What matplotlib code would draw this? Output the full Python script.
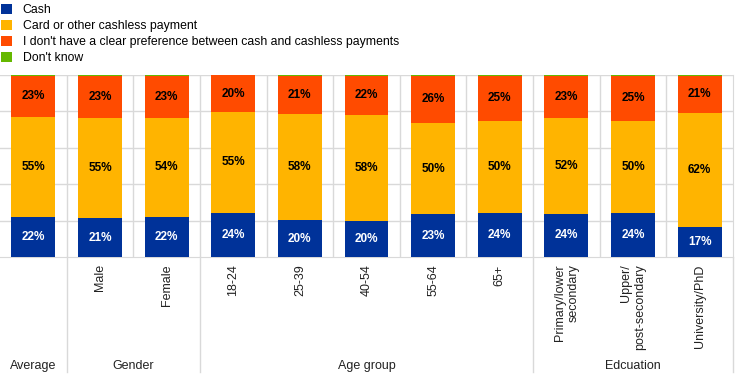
import matplotlib.pyplot as plt
import matplotlib.transforms as mtransforms
import numpy as np

plt.rcParams['font.family'] = ['Liberation Sans', 'DejaVu Sans']

categories = ["", "Male", "Female", "18-24", "25-39", "40-54", "55-64", "65+",
              "Primary/lower\nsecondary", "Upper/\npost-secondary", "University/PhD"]
groups = [("Average", 0, 0), ("Gender", 1, 2), ("Age group", 3, 7), ("Edcuation", 8, 10)]

cash = [21.8, 21.4, 22.1, 24.3, 20.2, 20.0, 23.4, 24.3, 23.8, 24.2, 16.7]
card = [54.9, 54.9, 54.4, 55.4, 58.4, 57.9, 50.3, 50.4, 52.4, 50.4, 62.4]
pref = [23.0, 23.4, 23.1, 20.1, 21.1, 21.8, 26.0, 25.0, 23.3, 25.1, 20.6]
dont_know = [0.3, 0.3, 0.4, 0.2, 0.3, 0.3, 0.3, 0.3, 0.5, 0.3, 0.3]

series = [("Cash", cash, "#003299", "white"),
          ("Card or other cashless payment", card, "#FFB400", "black"),
          ("I don't have a clear preference between cash and cashless payments", pref, "#FF4B00", "black"),
          ("Don't know", dont_know, "#65B800", None)]

fig = plt.figure(figsize=(7.44, 3.77), dpi=100)
ax = fig.add_axes([0.0, 120 / 377, 733 / 744, 182 / 377])

x = np.arange(len(categories))
bottom = np.zeros(len(categories))
handles = []
for name, vals, color, tcolor in series:
    vals = np.array(vals)
    bars = ax.bar(x, vals, 0.66, bottom=bottom, color=color, label=name, zorder=3)
    handles.append(bars)
    if tcolor:
        for xi, b, v in zip(x, bottom, vals):
            ax.text(xi, b + v / 2, f"{round(v):.0f}%", ha='center', va='center',
                    color=tcolor, fontsize=8.5, fontweight='bold', zorder=4)
    bottom += vals

ax.set_xlim(-0.5, len(categories) - 0.5)
ax.set_ylim(0, 100)
for y in range(20, 101, 20):
    ax.axhline(y, color='#d9d9d9', lw=1, zorder=1)
for b in np.arange(0.5, len(categories) - 0.5, 1):
    ax.axvline(b, color='#d9d9d9', lw=1, zorder=1)
for s in ['top', 'left']:
    ax.spines[s].set_visible(False)
ax.spines['right'].set_color('#d9d9d9')
ax.spines['bottom'].set_color('#d9d9d9')
ax.set_xticks([])
ax.set_yticks([])

trans = mtransforms.blended_transform_factory(ax.transData, ax.transAxes)
for xi, lab in zip(x, categories):
    ax.text(xi, -0.04, lab, rotation=90, ha='center', va='top', multialignment='right',
            fontsize=9, transform=trans, color='#222222')
for name, a, b in groups:
    ax.text((a + b) / 2, -0.6, name, ha='center', va='center', fontsize=9,
            transform=trans, color='#222222')
    ax.plot([b + 0.5, b + 0.5], [0, -0.63], color='#d9d9d9', lw=1,
            transform=trans, clip_on=False)

fig.legend(handles=handles, loc='upper left', bbox_to_anchor=(-0.008, 1.01), frameon=False,
           fontsize=8.8, handlelength=0.85, handleheight=0.9, handletextpad=0.9,
           labelspacing=0.32, borderaxespad=0.2)

fig.savefig("out.png", dpi=100)
